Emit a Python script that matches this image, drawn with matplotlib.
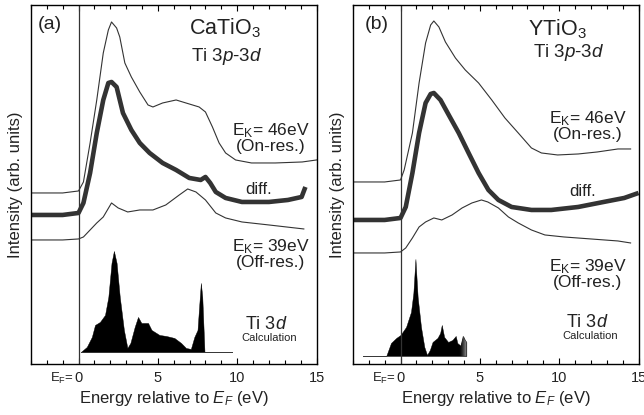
import numpy as np
import matplotlib
matplotlib.use("Agg")
import matplotlib.pyplot as plt
import matplotlib.transforms as mtransforms

plt.rcParams['font.family'] = 'Liberation Sans'
plt.rcParams['mathtext.fontset'] = 'custom'
plt.rcParams['mathtext.rm'] = 'Liberation Sans'
plt.rcParams['mathtext.it'] = 'Liberation Sans:italic'
plt.rcParams['mathtext.default'] = 'regular'

# ---- data (energy in eV, intensity in arb. units) ----
# (a) CaTiO3
a_on_x = [-3, -1, 0, 0.31, 0.73, 1.15, 1.56, 1.88, 2.08, 2.4, 2.6, 2.92, 3.33, 3.86, 4.38,
          4.69, 5.3, 6.15, 6.77, 7.6, 8.0, 8.44, 8.86, 9.27, 9.9, 10.9, 12.4, 14.1, 15]
a_on_y = [171, 171, 173, 182, 221, 264, 311, 334, 342, 336, 327, 301, 287, 272, 259,
          257, 261, 264, 261, 257, 252, 237, 221, 211, 204, 201, 201, 202, 204]
a_diff_x = [-3, -1, 0, 0.31, 0.73, 1.15, 1.56, 1.88, 2.08, 2.4, 2.8, 3.33, 3.86, 4.48, 5.3,
            6.15, 6.98, 7.7, 8.0, 8.3, 8.65, 9.27, 10.3, 12.0, 13.2, 14.06, 14.3]
a_diff_y = [149, 149, 151, 161, 191, 231, 264, 281, 282, 277, 251, 234, 221, 211, 201,
            194, 186, 184, 187, 181, 172, 166, 162, 162, 164, 167, 177]
a_off_x = [-3, -1, 0, 0.31, 0.73, 1.15, 1.56, 2.08, 2.5, 3.1, 3.86, 4.69, 5.5, 6.35, 6.88,
           7.4, 8.0, 8.65, 9.27, 10.3, 12.0, 14.2]
a_off_y = [124, 124, 125, 127, 134, 141, 147, 161, 156, 152, 154, 154, 159, 169, 175,
           172, 164, 151, 146, 142, 139, 135]
a_calc_x = [0.15, 0.52, 0.84, 1.04, 1.35, 1.67, 1.88, 2.08, 2.23, 2.4, 2.6, 2.86, 3.08, 3.27,
            3.54, 3.75, 3.96, 4.38, 4.6, 5.1, 5.52, 6.04, 6.46, 6.77, 7.08, 7.3, 7.5, 7.6,
            7.71, 7.8, 7.94]
a_calc_y = [12, 17, 27, 39, 42, 49, 67, 101, 113, 101, 67, 34, 16, 21,
            37, 47, 41, 41, 34, 29, 28, 26, 21, 16, 15, 27, 34, 57,
            81, 67, 12]
a_calc_base = [0.15, 9.69]

# (b) YTiO3
b_on_x = [-3, -1, 0, 0.23, 0.75, 1.17, 1.58, 1.9, 2.1, 2.42, 2.83, 3.46, 4.08, 4.92, 5.75,
          6.58, 7.42, 8.25, 8.88, 9.9, 11.2, 12.4, 13.7, 14.5]
b_on_y = [182, 182, 184, 194, 231, 281, 321, 339, 343, 337, 322, 306, 294, 281, 264,
          246, 231, 216, 211, 209, 210, 212, 215, 215]
b_diff_x = [-3, -1, 0, 0.33, 0.75, 1.17, 1.58, 1.9, 2.1, 2.52, 3.04, 3.67, 4.29, 4.92, 5.54,
            6.17, 7.0, 8.25, 9.5, 11.2, 12.8, 14.1, 15]
b_diff_y = [144, 144, 146, 157, 191, 231, 261, 270, 271, 264, 249, 231, 211, 191, 174,
            164, 157, 154, 154, 157, 162, 166, 171]
b_off_x = [-3, -1, 0, 0.33, 0.75, 1.17, 1.58, 2.1, 2.6, 3.25, 3.88, 4.5, 5.1, 5.5, 6.17,
           6.8, 7.42, 8.25, 9.1, 10.3, 12.0, 13.7, 14.5]
b_off_y = [111, 111, 112, 116, 126, 137, 142, 146, 144, 149, 156, 161, 164, 162, 156,
           147, 141, 134, 129, 127, 125, 123, 121]
b_calc_x = [-0.9, -0.6, -0.27, 0, 0.35, 0.66, 0.81, 0.94, 1.08, 1.29, 1.5, 1.67, 1.85, 2.02,
            2.33, 2.5, 2.6, 2.75, 3.0, 3.27, 3.48, 3.58, 3.79, 3.94, 4.06, 4.15]
b_calc_y = [8, 21, 26, 29, 37, 52, 71, 105, 67, 37, 17, 9, 14, 22,
            26, 31, 39, 27, 22, 24, 28, 21, 18, 28, 24, 22]
b_calc_base = [-2.35, -0.9]

ink = '#333333'
txt = '#222222'

fig = plt.figure(figsize=(6.44, 4.15), dpi=100)


def panel(left, tag, name, on_x, on_y, diff_x, diff_y, off_x, off_y,
          calc_x, calc_y, base, base_y, lab, fade=False):
    ax = fig.add_axes([left, 0.123, 0.4435, 0.865])
    ax.plot(on_x, on_y, color=ink, lw=0.8)
    ax.plot(diff_x, diff_y, color=ink, lw=3.3, solid_capstyle='butt')
    ax.plot(off_x, off_y, color=ink, lw=0.8)
    poly = ax.fill_between(calc_x, calc_y, base_y, color='black', lw=0.3)
    if fade:
        # light fade-out at the right end of the calculated DOS
        grad = np.linspace(0, 1, 64).reshape(1, -1) ** 1.5
        im = ax.imshow(grad, cmap='gray', vmin=0, vmax=1.6, aspect='auto',
                       extent=[calc_x[-1] - 0.45, calc_x[-1] + 0.02, base_y, 130],
                       zorder=3)
        im.set_clip_path(poly.get_paths()[0], ax.transData)
    ax.plot(base, [base_y] * 2, color=ink, lw=0.7)
    ax.axvline(0, color=ink, lw=0.9)

    ax.set_xlim(-3, 15)
    ax.set_ylim(0, 359)
    ax.set_yticks([])
    ax.set_xticks([0, 5, 10, 15])
    ax.set_xticklabels(['0', '5', '10', '15'])
    ax.set_xticks(np.arange(-3, 16, 1), minor=True)
    ax.tick_params(which='both', direction='in', top=True, bottom=True,
                   labelsize=10.5, labelcolor=txt, pad=5, width=0.8)
    ax.tick_params(which='major', length=4)
    ax.tick_params(which='minor', length=3)
    for s in ax.spines.values():
        s.set_linewidth(1.0)

    trans = mtransforms.blended_transform_factory(ax.transData, ax.transAxes)
    ax.text(-0.3, -0.04, 'E$_F$=', transform=trans, ha='right', va='center',
            fontsize=9.5, color=txt)

    ax.set_xlabel(r'Energy relative to $\mathit{E}_\mathit{F}$ (eV)', fontsize=12,
                  color=txt, labelpad=3)
    ax.set_ylabel('Intensity (arb. units)', fontsize=12, color=txt, labelpad=6)

    ax.text(lab['tag'][0], lab['tag'][1], tag, fontsize=14, color=txt,
            ha='center', va='center')
    ax.text(lab['name'][0], lab['name'][1], name, fontsize=15.5, color=txt,
            ha='center', va='center')
    ax.text(lab['trans'][0], lab['trans'][1], r'Ti 3$\mathit{p}$-3$\mathit{d}$',
            fontsize=13.5, color=txt, ha='center', va='center')
    ax.text(lab['on'][0], lab['on'][1], 'E$_K$= 46eV', fontsize=12.5, color=txt,
            ha='center', va='center')
    ax.text(lab['on'][0], lab['on'][1] - 16, '(On-res.)', fontsize=12.5, color=txt,
            ha='center', va='center')
    ax.text(lab['diff'][0], lab['diff'][1], 'diff.', fontsize=12, color=txt,
            ha='center', va='center')
    ax.text(lab['off'][0], lab['off'][1], 'E$_K$= 39eV', fontsize=12.5, color=txt,
            ha='center', va='center')
    ax.text(lab['off'][0], lab['off'][1] - 16, '(Off-res.)', fontsize=12.5, color=txt,
            ha='center', va='center')
    ax.text(lab['ti'][0], lab['ti'][1], r'Ti 3$\mathit{d}$', fontsize=13, color=txt,
            ha='center', va='center')
    ax.text(lab['ti'][0] + 0.2, lab['ti'][1] - 13, 'Calculation', fontsize=8, color=txt,
            ha='center', va='center')
    return ax


lab_a = {'tag': (-1.8, 339), 'name': (9.2, 336), 'trans': (9.35, 307), 'on': (12.1, 233),
         'diff': (11.35, 174), 'off': (12.1, 117), 'ti': (11.8, 39)}
lab_b = {'tag': (-1.5, 339), 'name': (9.9, 335), 'trans': (10.6, 311), 'on': (11.8, 245),
         'diff': (11.5, 172), 'off': (11.8, 97), 'ti': (11.75, 41)}

panel(0.048, '(a)', 'CaTiO$_3$', a_on_x, a_on_y, a_diff_x, a_diff_y, a_off_x, a_off_y,
      a_calc_x, a_calc_y, a_calc_base, 12, lab_a)
panel(0.548, '(b)', 'YTiO$_3$', b_on_x, b_on_y, b_diff_x, b_diff_y, b_off_x, b_off_y,
      b_calc_x, b_calc_y, b_calc_base, 8, lab_b, fade=True)

fig.savefig('out.png', dpi=100)
